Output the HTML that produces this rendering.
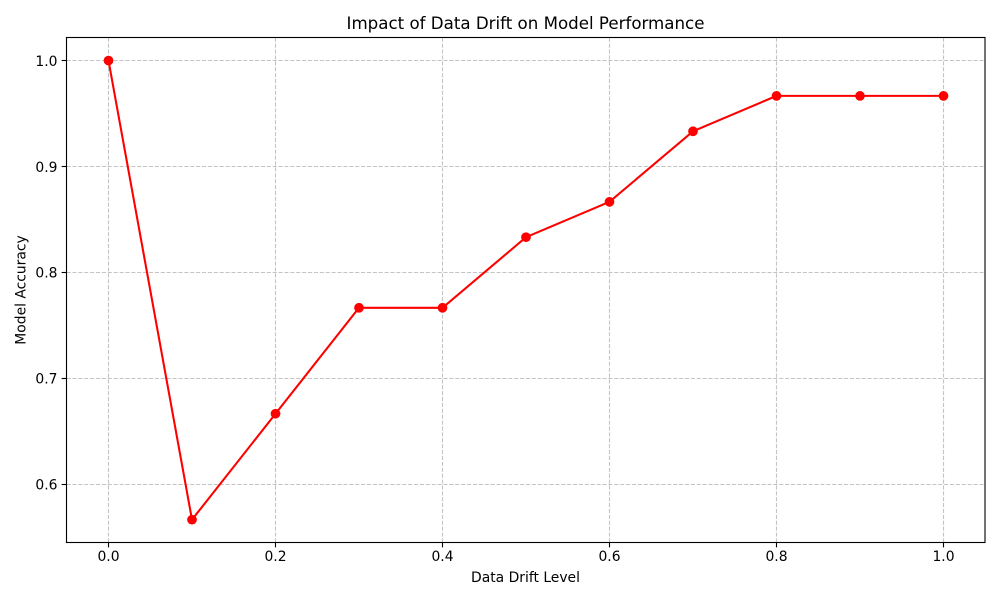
<!DOCTYPE html>
<html>
<head>
<meta charset="utf-8">
<style>
html,body{margin:0;padding:0;background:#fff;}
svg{display:block;}
text{font-family:"DejaVu Sans",sans-serif;fill:#000;}
</style>
</head>
<body>
<svg id="chart" width="1000" height="600" viewBox="0 0 1000 600" xmlns="http://www.w3.org/2000/svg">
  <rect x="0" y="0" width="1000" height="600" fill="#fff"/>
  <g id="grid"></g>
  <g id="series"></g>
  <rect x="66.5" y="37.5" width="918.5" height="505" fill="none" stroke="#000" stroke-width="1.11"/>
  <g id="ticks"></g>
  <text x="525.5" y="29" font-size="16.67" text-anchor="middle">Impact of Data Drift on Model Performance</text>
  <text x="525.5" y="582" font-size="13.89" text-anchor="middle">Data Drift Level</text>
  <text transform="translate(25.5,290) rotate(-90)" font-size="13.89" text-anchor="middle">Model Accuracy</text>
</svg>
<script>
const driftLevels = [0.0, 0.1, 0.2, 0.3, 0.4, 0.5, 0.6, 0.7, 0.8, 0.9, 1.0];
const accuracyValues = [1.0, 0.5667, 0.6667, 0.7667, 0.7667, 0.8333, 0.8667, 0.9333, 0.9667, 0.9667, 0.9667];
const xTickValues = [0.0, 0.2, 0.4, 0.6, 0.8, 1.0];
const xTickLabels = ["0.0", "0.2", "0.4", "0.6", "0.8", "1.0"];
const yTickValues = [0.6, 0.7, 0.8, 0.9, 1.0];
const yTickLabels = ["0.6", "0.7", "0.8", "0.9", "1.0"];

const NS = "http://www.w3.org/2000/svg";
const plotLeft = 66.5, plotRight = 985, plotTop = 37.5, plotBottom = 542.5;
function xScale(v) { return 108.5 + v * 835; }
function yScale(v) { return 484.4 - (v - 0.6) * 1059.5; }
function snap(p) { return Math.floor(p) + 0.5; }
function make(tag, attrs, parent) {
  const el = document.createElementNS(NS, tag);
  for (const k in attrs) el.setAttribute(k, attrs[k]);
  parent.appendChild(el);
  return el;
}
const grid = document.getElementById("grid");
const ticks = document.getElementById("ticks");
const series = document.getElementById("series");
const gridStyle = { stroke: "#c4c4c4", "stroke-width": 1.11, "stroke-dasharray": "4.11 1.78", fill: "none" };

xTickValues.forEach(function (v, i) {
  const x = xScale(v);
  const sx = snap(x);
  const gl = make("line", Object.assign({ x1: sx, x2: sx, y1: plotBottom, y2: plotTop }, gridStyle), grid);
  
  
  const tm = make("line", { x1: sx, x2: sx, y1: plotBottom, y2: plotBottom + 4.86, stroke: "#000", "stroke-width": 1.11 }, ticks);
  
  
  const tl = make("text", { x: x, y: 561, "font-size": 13.89, "text-anchor": "middle" }, ticks);
  
  
  tl.textContent = xTickLabels[i];
});

yTickValues.forEach(function (v, i) {
  const y = yScale(v);
  const sy = snap(y);
  const gl = make("line", Object.assign({ x1: plotLeft, x2: plotRight, y1: sy, y2: sy }, gridStyle), grid);
  
  
  const tm = make("line", { x1: plotLeft - 4.86, x2: plotLeft, y1: sy, y2: sy, stroke: "#000", "stroke-width": 1.11 }, ticks);
  
  
  const tl = make("text", { x: 57.5, y: y + 5.2, "font-size": 13.89, "text-anchor": "end" }, ticks);
  
  
  tl.textContent = yTickLabels[i];
});

const pts = driftLevels.map(function (d, i) { return xScale(d) + "," + yScale(accuracyValues[i]); }).join(" ");
const line = make("polyline", { points: pts, fill: "none", stroke: "#ff0000", "stroke-width": 2.08, "stroke-linejoin": "round" }, series);



driftLevels.forEach(function (d, i) {
  const c = make("circle", { cx: xScale(d), cy: yScale(accuracyValues[i]), r: 4.86, fill: "#ff0000" }, series);
  
  
});
</script>
</body>
</html>
